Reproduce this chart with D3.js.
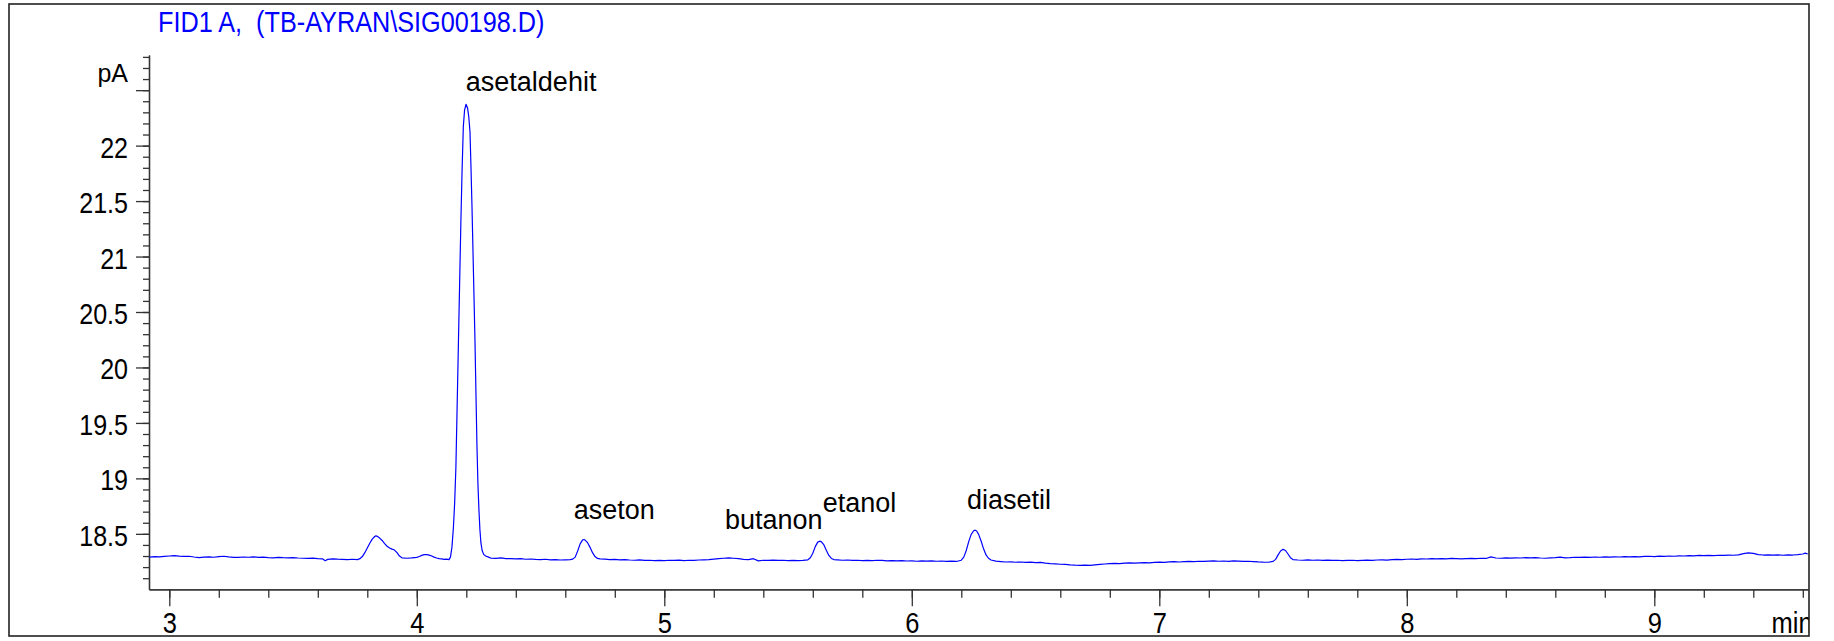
<!DOCTYPE html>
<html><head><meta charset="utf-8">
<script src="https://cdn.jsdelivr.net/npm/d3@7"></script>
<style>html,body{margin:0;padding:0;background:#fff;}svg{display:block;}</style>
</head><body>
<svg id="chart" width="1834" height="641"></svg>
<script>
// ---- data ----
const title = "FID1 A,  (TB-AYRAN\\SIG00198.D)";
const yUnit = "pA";
const xUnit = "min";

const time = [
2.92,2.94,2.96,2.98,3.00,3.02,3.04,3.06,3.08,3.10,3.12,3.14,3.16,3.18,3.20,3.22,3.24,3.26,3.28,3.30,
3.32,3.34,3.36,3.38,3.40,3.42,3.44,3.46,3.48,3.50,3.52,3.54,3.56,3.58,3.60,3.62,3.63,3.64,3.66,3.68,
3.70,3.72,3.74,3.76,3.77,3.78,3.79,3.80,3.81,3.82,3.83,3.835,3.84,3.85,3.86,3.87,3.88,3.89,3.90,3.91,
3.92,3.93,3.94,3.96,3.98,4.00,4.01,4.02,4.03,4.04,4.05,4.06,4.07,4.08,4.09,4.10,4.11,4.12,4.13,
4.136,4.142,4.148,4.153,4.158,4.163,4.168,4.173,4.178,4.183,4.188,4.193,4.199,4.205,4.210,4.215,4.219,
4.223,4.227,4.231,4.235,4.239,4.243,4.247,4.251,4.255,4.259,4.264,4.270,4.278,4.29,
4.30,4.32,4.34,4.36,4.38,4.40,4.42,4.44,4.46,4.48,4.50,4.52,4.54,4.56,4.58,4.60,4.62,4.63,
4.64,4.65,4.66,4.67,4.675,4.68,4.69,4.70,4.71,4.72,4.73,4.74,4.76,4.78,4.80,4.82,4.84,4.86,4.88,4.90,
4.92,4.94,4.96,4.98,5.00,5.02,5.04,5.06,5.08,5.10,5.12,5.14,5.16,5.18,5.20,5.22,5.24,5.26,5.28,5.30,
5.32,5.34,5.36,5.38,5.40,5.42,5.44,5.46,5.48,5.50,5.52,5.54,5.56,5.58,
5.59,5.60,5.61,5.62,5.628,5.635,5.645,5.655,5.665,5.675,5.685,5.70,5.72,5.74,5.76,5.78,5.80,5.82,5.84,5.86,
5.88,5.90,5.92,5.94,5.96,5.98,6.00,6.02,6.04,6.06,6.08,6.10,6.12,6.14,6.16,6.18,6.20,
6.21,6.22,6.23,6.24,6.25,6.256,6.262,6.27,6.28,6.29,6.30,6.31,6.32,6.34,6.36,6.38,6.40,6.42,6.44,6.46,
6.48,6.50,6.52,6.54,6.56,6.58,6.60,6.62,6.64,6.66,6.68,6.70,6.72,6.74,6.76,6.78,6.80,6.82,6.84,6.86,
6.88,6.90,6.92,6.94,6.96,6.98,7.00,7.02,7.04,7.06,7.08,7.10,7.12,7.14,7.16,7.18,7.20,7.22,7.24,7.26,
7.28,7.30,7.32,7.34,7.36,7.38,7.40,7.42,7.44,7.46,
7.47,7.48,7.49,7.50,7.51,7.52,7.53,7.54,7.56,7.58,7.60,7.62,7.64,7.66,7.68,7.70,7.72,7.74,7.76,7.78,
7.80,7.82,7.84,7.86,7.88,7.90,7.92,7.94,7.96,7.98,8.00,8.02,8.04,8.06,8.08,8.10,8.12,8.14,8.16,8.18,
8.20,8.22,8.24,8.26,8.28,8.30,8.32,8.34,8.36,8.38,8.40,8.42,8.44,8.46,8.48,8.50,8.52,8.54,8.56,8.58,
8.60,8.62,8.64,8.66,8.68,8.70,8.72,8.74,8.76,8.78,8.80,8.82,8.84,8.86,8.88,8.90,8.92,8.94,8.96,8.98,
9.00,9.02,9.04,9.06,9.08,9.10,9.12,9.14,9.16,9.18,9.20,9.22,9.24,9.26,9.28,9.30,9.32,9.34,9.36,9.38,
9.40,9.42,9.44,9.46,9.48,9.50,9.52,9.54,9.56,9.58,9.60,9.61,9.62
];

const signal = [
18.290,18.294,18.292,18.297,18.300,18.303,18.299,18.296,18.298,18.291,18.286,18.290,18.293,18.289,18.295,18.298,18.292,18.288,18.287,18.291,
18.289,18.292,18.288,18.290,18.286,18.284,18.288,18.285,18.283,18.286,18.282,18.280,18.279,18.281,18.276,18.274,18.258,18.270,18.275,18.272,
18.270,18.268,18.271,18.268,18.276,18.295,18.330,18.372,18.415,18.452,18.476,18.482,18.478,18.462,18.440,18.412,18.388,18.372,18.362,18.354,
18.330,18.300,18.284,18.280,18.283,18.288,18.296,18.306,18.312,18.313,18.308,18.300,18.290,18.282,18.276,18.274,18.270,18.272,18.268,
18.290,18.380,18.560,18.780,19.100,19.650,20.200,20.750,21.300,21.780,22.170,22.320,22.373,22.340,22.260,22.120,21.800,
21.450,21.050,20.650,20.250,19.770,19.300,18.950,18.720,18.540,18.420,18.350,18.315,18.300,18.290,
18.280,18.279,18.283,18.276,18.277,18.274,18.276,18.271,18.273,18.270,18.268,18.271,18.266,18.268,18.264,18.266,18.268,18.272,
18.290,18.345,18.410,18.445,18.449,18.444,18.420,18.378,18.330,18.295,18.278,18.274,18.272,18.268,18.270,18.266,18.268,18.264,18.262,18.265,
18.260,18.262,18.259,18.261,18.258,18.262,18.260,18.263,18.259,18.262,18.261,18.264,18.266,18.268,18.272,18.276,18.280,18.284,18.280,18.276,
18.270,18.268,18.276,18.256,18.262,18.260,18.263,18.260,18.262,18.259,18.261,18.258,18.261,18.266,
18.285,18.325,18.385,18.425,18.434,18.428,18.400,18.350,18.305,18.278,18.268,18.266,18.262,18.264,18.260,18.262,18.259,18.261,18.258,18.262,
18.260,18.257,18.259,18.256,18.258,18.255,18.257,18.253,18.256,18.254,18.257,18.253,18.255,18.252,18.254,18.251,18.262,
18.290,18.350,18.430,18.495,18.528,18.533,18.525,18.495,18.435,18.365,18.310,18.280,18.264,18.254,18.250,18.246,18.248,18.244,18.246,18.243,
18.245,18.240,18.242,18.236,18.232,18.230,18.226,18.225,18.221,18.218,18.216,18.218,18.216,18.220,18.224,18.228,18.231,18.234,18.232,18.236,
18.238,18.236,18.239,18.241,18.239,18.243,18.245,18.243,18.247,18.249,18.246,18.250,18.252,18.249,18.253,18.251,18.254,18.256,18.253,18.255,
18.252,18.256,18.254,18.251,18.253,18.250,18.247,18.245,18.244,18.252,
18.270,18.310,18.345,18.360,18.350,18.318,18.285,18.268,18.264,18.262,18.265,18.262,18.264,18.261,18.263,18.260,18.262,18.259,18.261,18.262,
18.258,18.261,18.263,18.260,18.264,18.266,18.263,18.268,18.270,18.267,18.271,18.273,18.270,18.275,18.273,18.276,18.274,18.277,18.275,18.278,
18.276,18.274,18.277,18.279,18.276,18.280,18.278,18.292,18.282,18.280,18.283,18.281,18.284,18.282,18.285,18.283,18.286,18.282,18.280,18.283,
18.286,18.290,18.284,18.286,18.289,18.287,18.290,18.288,18.291,18.289,18.292,18.290,18.293,18.291,18.294,18.292,18.295,18.293,18.296,18.298,
18.295,18.299,18.297,18.300,18.298,18.302,18.300,18.303,18.301,18.305,18.303,18.306,18.304,18.307,18.305,18.308,18.307,18.310,18.322,18.328,
18.324,18.312,18.309,18.311,18.308,18.310,18.307,18.311,18.309,18.312,18.318,18.326,18.318
];

const peakNames  = ["asetaldehit", "aseton", "butanon", "etanol", "diasetil"];
const peakLabelTimes  = [4.198, 4.634, 5.245, 5.640, 6.223];
const peakLabelValues = [22.49, 18.635, 18.545, 18.695, 18.723];

const xTickValues = [3, 4, 5, 6, 7, 8, 9];
const xTickLabels = ["3", "4", "5", "6", "7", "8", "9"];
const yTickValues = [18.5, 19, 19.5, 20, 20.5, 21, 21.5, 22, 22.5];
const yTickLabels = ["18.5", "19", "19.5", "20", "20.5", "21", "21.5", "22", ""];

// ---- layout ----
const W = 1834, H = 641;
const plot = {left: 149, right: 1808, top: 55, bottom: 589.3};
const FONT = "'Liberation Sans', Arial, sans-serif";
const SQ = 0.85; // horizontal condensation of the instrument font
const axisColor = "#333";

const svg = d3.select("#chart");

const x = d3.scaleLinear().domain([2.918, 9.621]).range([plot.left, plot.right]);
const y = d3.scaleLinear().domain([18.0, 22.817]).range([plot.bottom, plot.top]);

// clip for trace
svg.append("defs").append("clipPath").attr("id", "plotclip")
  .append("rect").attr("x", plot.left).attr("y", plot.top - 5)
  .attr("width", plot.right - plot.left).attr("height", plot.bottom - plot.top + 5);
svg.select("defs").append("clipPath").attr("id", "frameclip")
  .append("rect").attr("x", 0).attr("y", 0).attr("width", 1809).attr("height", H);

// title
svg.append("text")
  .attr("transform", `translate(158,32) scale(0.87,1)`)
  .attr("font-family", FONT).attr("font-size", 29).attr("fill", "#0000ff")
  .style("white-space", "pre").attr("xml:space", "preserve")
  .text(title);

// Y axis minor ticks
const yMinor = d3.range(181, 229).map(d => d / 10);
svg.append("g").attr("transform", `translate(${plot.left},0)`)
  .call(d3.axisLeft(y).tickValues(yMinor).tickSize(6).tickSizeOuter(0).tickFormat(""))
  .call(g => g.selectAll("line,path").attr("stroke", axisColor).attr("stroke-width", 1.3));

// Y axis major ticks + labels
const yAxisG = svg.append("g").attr("transform", `translate(${plot.left},0)`)
  .call(d3.axisLeft(y).tickValues(yTickValues).tickSize(13).tickSizeOuter(0)
    .tickFormat((d, i) => yTickLabels[i]));
yAxisG.selectAll("line,path").attr("stroke", axisColor).attr("stroke-width", 1.3);
yAxisG.selectAll("text")
  .attr("font-family", FONT).attr("font-size", 29.5).attr("fill", "#000")
  .attr("x", -21 / SQ).attr("dy", "0.39em")
  .attr("transform", `scale(${SQ},1)`);

// X axis minor ticks
const xMinor = d3.range(30, 97, 2).map(d => d / 10);
svg.append("g").attr("transform", `translate(0,${plot.bottom})`)
  .call(d3.axisBottom(x).tickValues(xMinor).tickSize(8.5).tickSizeOuter(0).tickFormat(""))
  .call(g => g.selectAll("line,path").attr("stroke", axisColor).attr("stroke-width", 1.3));

// X axis major ticks + labels
const xAxisG = svg.append("g").attr("transform", `translate(0,${plot.bottom})`)
  .call(d3.axisBottom(x).tickValues(xTickValues).tickSize(17).tickSizeOuter(0)
    .tickFormat((d, i) => xTickLabels[i]));
xAxisG.selectAll("line,path").attr("stroke", axisColor).attr("stroke-width", 1.3);
xAxisG.selectAll("text")
  .attr("font-family", FONT).attr("font-size", 30).attr("fill", "#000")
  .attr("y", 44).attr("dy", 0).attr("x", 0)
  .attr("transform", `scale(${SQ},1)`);

// unit labels
svg.append("text").attr("x", 128).attr("y", 82)
  .attr("text-anchor", "end").attr("font-family", FONT).attr("font-size", 25).attr("fill", "#000")
  .text(yUnit);
svg.append("g").attr("clip-path", "url(#frameclip)")
  .append("text")
  .attr("transform", `translate(1771.5,633) scale(${SQ},1)`)
  .attr("font-family", FONT).attr("font-size", 30).attr("fill", "#000")
  .text(xUnit);

// trace
const pts = time.map((t, i) => [t, signal[i]]);
svg.append("path")
  .datum(pts)
  .attr("clip-path", "url(#plotclip)")
  .attr("fill", "none").attr("stroke", "#0000ff").attr("stroke-width", 1.2)
  .attr("stroke-linejoin", "round")
  .attr("d", d3.line().x(d => x(d[0])).y(d => y(d[1])));

// peak labels
svg.append("g").selectAll("text")
  .data(peakNames)
  .join("text")
  .attr("x", (d, i) => x(peakLabelTimes[i]))
  .attr("y", (d, i) => y(peakLabelValues[i]))
  .attr("font-family", FONT).attr("font-size", 27).attr("fill", "#000")
  .text(d => d);

// outer frame
svg.append("rect").attr("x", 9).attr("y", 4).attr("width", 1800).attr("height", 632)
  .attr("fill", "none").attr("stroke", "#222").attr("stroke-width", 1.6);
</script>
</body></html>
